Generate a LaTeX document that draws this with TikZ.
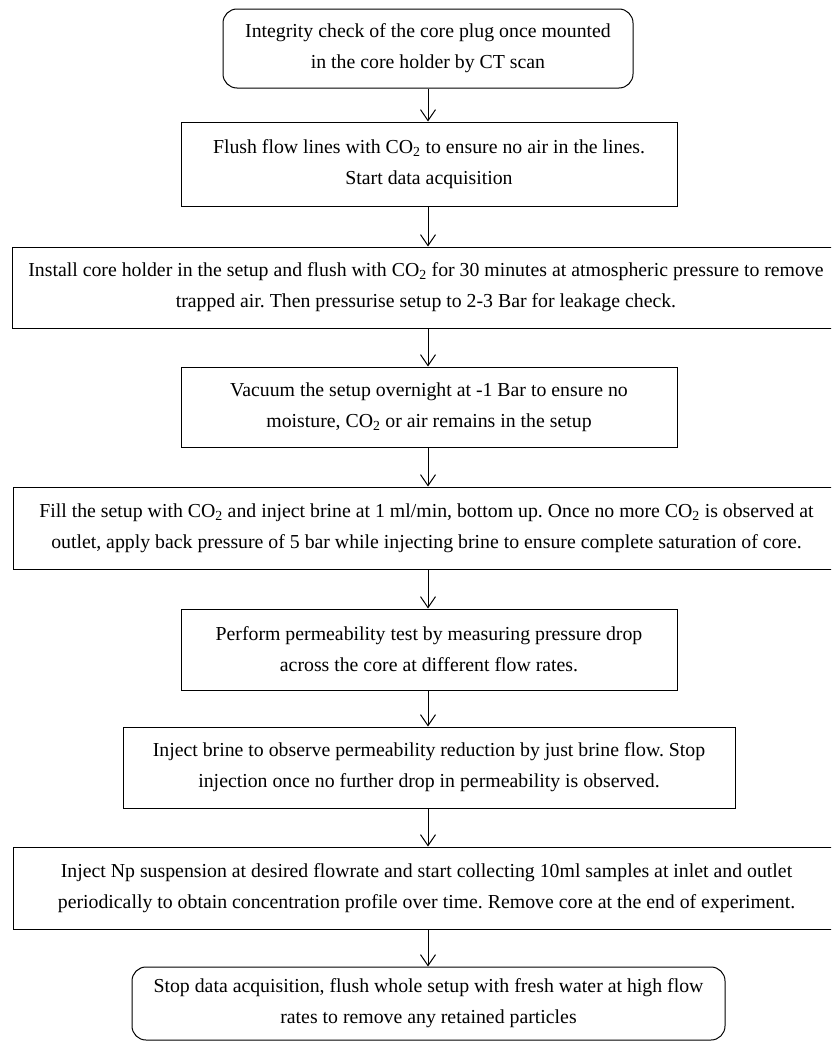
\documentclass[tikz,border=0pt]{standalone}
\usepackage{fontspec}
\setmainfont{Liberation Serif}
\usetikzlibrary{arrows.meta}
\frenchspacing
\begin{document}
\begin{tikzpicture}[x=1pt,y=-1pt,
  box/.style={draw, line width=1pt, align=center, inner sep=0pt,
    font=\fontsize{19.8}{31}\selectfont},
  rbox/.style={box, rounded corners=14pt},
  arr/.style={line width=1pt, -{Straight Barb[length=11pt,width=15pt,line width=1pt]}}]
\useasboundingbox (0,0) rectangle (831,1044);
\clip (0,0) rectangle (831,1044);
\node[rbox, minimum width=410pt, minimum height=79pt] (b1) at (428,48.5)
  {Integrity check of the core plug once mounted\\in the core holder by CT scan};
\node[box, minimum width=496pt, minimum height=84pt] (b2) at (429,164)
  {Flush flow lines with CO\textsubscript{2} to ensure no air in the lines.\\Start data acquisition};
\node[box, minimum width=828pt, minimum height=81pt] (b3) at (426,287.5)
  {Install core holder in the setup and flush with CO\textsubscript{2} for 30 minutes at atmospheric pressure to remove\\trapped air. Then pressurise setup to 2-3 Bar for leakage check.};
\node[box, minimum width=496pt, minimum height=80pt] (b4) at (429,407)
  {Vacuum the setup overnight at -1 Bar to ensure no\\moisture, CO\textsubscript{2} or air remains in the setup};
\node[box, minimum width=827pt, minimum height=82pt] (b5) at (426.5,528)
  {Fill the setup with CO\textsubscript{2} and inject brine at 1 ml/min, bottom up. Once no more CO\textsubscript{2} is observed at\\outlet, apply back pressure of 5 bar while injecting brine to ensure complete saturation of core.};
\node[box, minimum width=496pt, minimum height=81pt] (b6) at (429,649.5)
  {Perform permeability test by measuring pressure drop\\across the core at different flow rates.};
\node[box, minimum width=612pt, minimum height=81pt] (b7) at (429,767.5)
  {Inject brine to observe permeability reduction by just brine flow. Stop\\injection once no further drop in permeability is observed.};
\node[box, minimum width=827pt, minimum height=82pt] (b8) at (426.5,888)
  {Inject Np suspension at desired flowrate and start collecting 10ml samples at inlet and outlet\\periodically to obtain concentration profile over time. Remove core at the end of experiment.};
\node[rbox, minimum width=593pt, minimum height=73pt] (b9) at (428.5,1003.5)
  {Stop data acquisition, flush whole setup with fresh water at high flow\\rates to remove any retained particles};
\coordinate (ax) at (428,0);
\foreach \a/\b in {b1/b2,b2/b3,b3/b4,b4/b5,b5/b6,b6/b7,b7/b8,b8/b9}
  \draw[arr] (\a.south -| ax) -- (\b.north -| ax);
\end{tikzpicture}
\end{document}
